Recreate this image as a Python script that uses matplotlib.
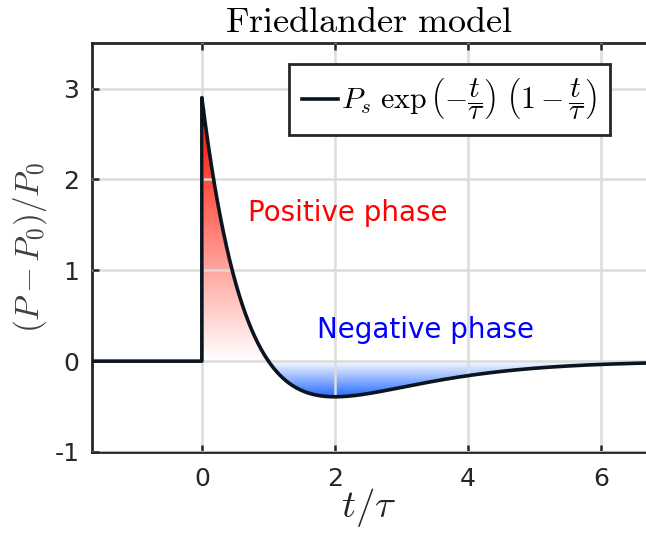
import numpy as np
import matplotlib
matplotlib.use("Agg")
import matplotlib.pyplot as plt
from matplotlib.colors import LinearSegmentedColormap

# Friedlander model parameters
Ps = 2.9           # peak overpressure
t_start = -1.65
t_end = 6.67
x_ticks = [0, 2, 4, 6]
y_ticks = [-1, 0, 1, 2, 3]
y_tick_labels = ["-1", "0", "1", "2", "3"]

plt.rcParams['mathtext.fontset'] = 'cm'
plt.rcParams['font.family'] = ['DejaVu Sans']

t = np.linspace(0, t_end, 2000)
p = Ps * np.exp(-t) * (1 - t)
t_full = np.concatenate([[t_start, 0], t])
p_full = np.concatenate([[0, 0], p])

fig = plt.figure(figsize=(6.46, 5.40), dpi=100)
ax = fig.add_axes([0.1424, 0.163, 0.8576, 0.757])

# gradient fills
red_cmap = LinearSegmentedColormap.from_list("r", [(1, 1, 1), (1.0, 0.16, 0.10)])
blue_cmap = LinearSegmentedColormap.from_list("b", [(1, 1, 1), (0.15, 0.42, 1.0)])

pos = p >= 0
grad_r = np.linspace(0, Ps / 2.4, 256).reshape(-1, 1)
im_r = ax.imshow(grad_r, extent=[0, 1.0, 0, Ps], origin='lower', aspect='auto',
                 cmap=red_cmap, vmin=0, vmax=1, zorder=1, interpolation='bilinear')
poly_r = ax.fill_between(t[pos], 0, p[pos], facecolor='none', edgecolor='none')
im_r.set_clip_path(poly_r.get_paths()[0], transform=ax.transData)

neg = p <= 0
grad_b = np.linspace(1, 0, 256).reshape(-1, 1)
im_b = ax.imshow(grad_b, extent=[1.0, t_end, -0.40, 0], origin='lower', aspect='auto',
                 cmap=blue_cmap, vmin=0, vmax=1, zorder=1, interpolation='bilinear')
poly_b = ax.fill_between(t[neg], 0, p[neg], facecolor='none', edgecolor='none')
im_b.set_clip_path(poly_b.get_paths()[0], transform=ax.transData)

ax.plot(t_full, p_full, color='#0a1520', lw=2.6, zorder=3,
        label=r'$P_s\ \exp\left(-\dfrac{t}{\tau}\right)\ \left(1-\dfrac{t}{\tau}\right)$')

ax.set_xlim(t_start, t_end)
ax.set_ylim(-1, 3.5)
ax.set_xticks(x_ticks)
ax.set_yticks(y_ticks)
ax.set_yticklabels(y_tick_labels)
ax.grid(True, color='#dcdcdc', lw=1.8)
ax.set_axisbelow(False)
for s in ax.spines.values():
    s.set_linewidth(2)
    s.set_color('#262626')
ax.spines['right'].set_visible(False)
ax.tick_params(direction='in', top=True, right=False, length=5, width=1.8,
               labelsize=18, colors='#262626', pad=9)
ax.tick_params(axis='x', pad=11)

ax.set_title(r'$\mathrm{Friedlander\ model}$', fontsize=26, pad=8)
ax.set_xlabel(r'$t/\tau$', fontsize=28, labelpad=-4, color='#262626')
ax.set_ylabel(r'$(P-P_0)/P_0$', fontsize=24, color='#404040', labelpad=4)

ax.text(2.19, 1.63, 'Positive phase', color='#ff0000', fontsize=20,
        ha='center', va='center')
ax.text(3.36, 0.34, 'Negative phase', color='#0000ff', fontsize=20,
        ha='center', va='center')

leg = ax.legend(loc='upper right', fontsize=21.5, fancybox=False, framealpha=1,
                edgecolor='#262626', handlelength=1.2, handletextpad=0.12,
                borderaxespad=0.5, borderpad=0.42, bbox_to_anchor=(0.962, 0.985))
leg.get_frame().set_linewidth(2)

fig.savefig('out.png', dpi=100)
